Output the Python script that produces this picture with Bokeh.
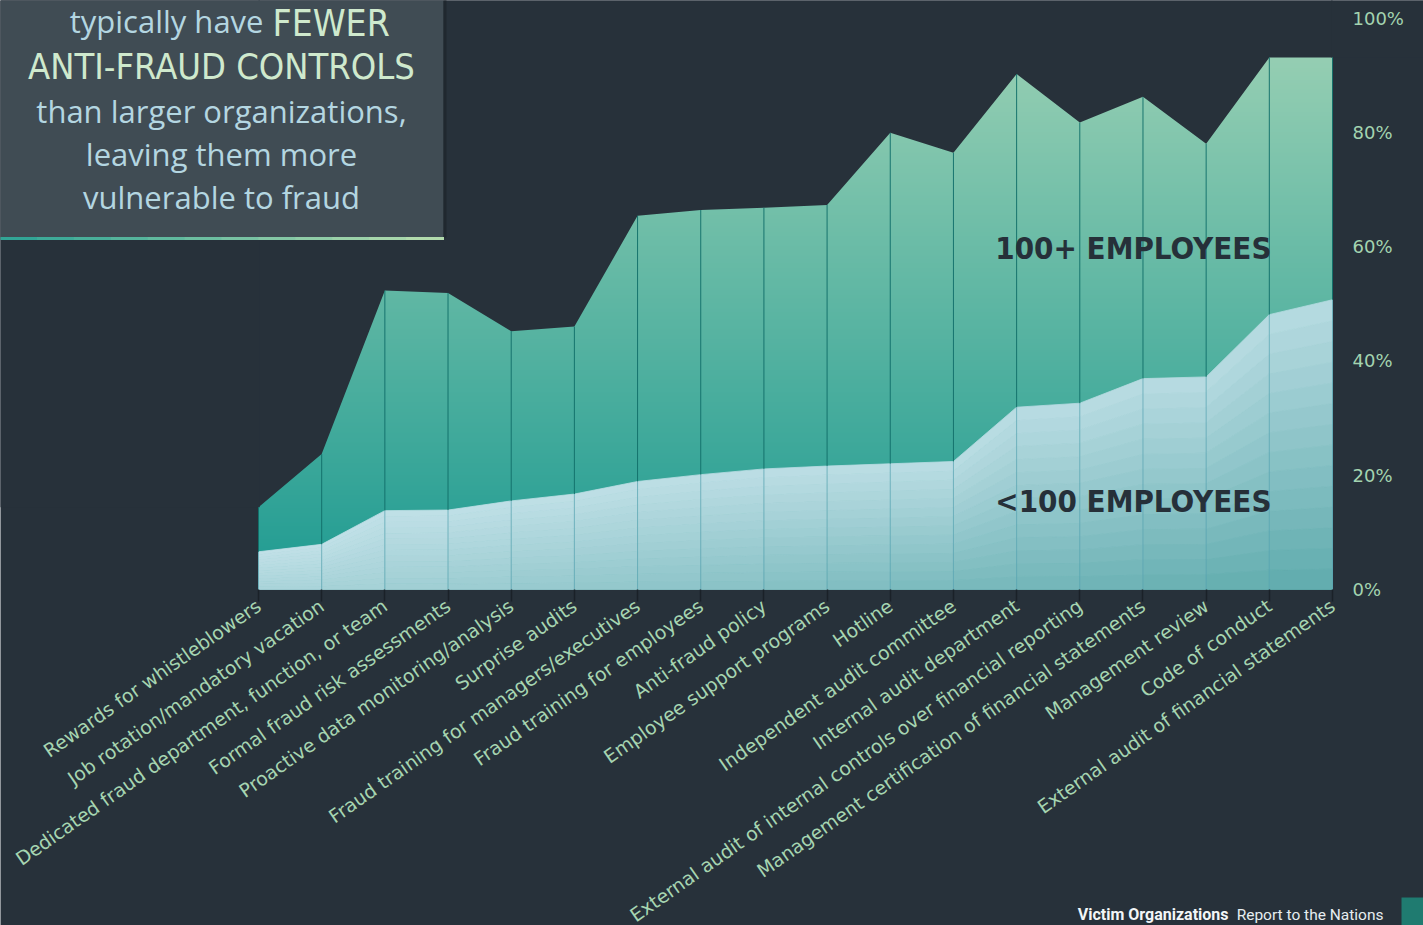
import numpy as np
from bokeh.plotting import figure
from bokeh.models import Range1d, FixedTicker, Label, BoxAnnotation
from bokeh.embed import file_html
from bokeh.resources import INLINE

# ---------------- data ----------------
categories = [
    "Rewards for whistleblowers",
    "Job rotation/mandatory vacation",
    "Dedicated fraud department, function, or team",
    "Formal fraud risk assessments",
    "Proactive data monitoring/analysis",
    "Surprise audits",
    "Fraud training for managers/executives",
    "Fraud training for employees",
    "Anti-fraud policy",
    "Employee support programs",
    "Hotline",
    "Independent audit committee",
    "Internal audit department",
    "External audit of internal controls over financial reporting",
    "Management certification of financial statements",
    "Management review",
    "Code of conduct",
    "External audit of financial statements",
]
over_100 = [14.4, 23.7, 52.3, 51.9, 45.2, 46.0, 65.4, 66.4, 66.8, 67.3,
            79.9, 76.4, 90.2, 81.7, 86.2, 78.0, 93.1, 93.1]
under_100 = [6.6, 7.9, 13.8, 13.9, 15.5, 16.7, 18.9, 20.1, 21.1, 21.6,
             22.0, 22.4, 31.9, 32.6, 36.9, 37.2, 48.1, 50.7]
y_ticks = [0, 20, 40, 60, 80, 100]
y_tick_labels = ["0%", "20%", "40%", "60%", "80%", "100%"]

# ---------------- style / layout ----------------
BG = "#27313a"
W, H = 1423, 925
n = len(categories)
X0_PX, XN_PX = 258, 1332          # pixel position of first / last category
Y0_PX, PX_PER_PCT = 589, 5.715    # pixel position of 0 %, pixels per percent
step = (XN_PX - X0_PX) / (n - 1)
x_start = -X0_PX / step
x_end = (W - X0_PX) / step
y_top = Y0_PX / PX_PER_PCT
y_bottom = -(H - Y0_PX) / PX_PER_PCT

p = figure(width=W, height=H, output_backend="svg", toolbar_location=None,
           x_range=Range1d(x_start, x_end), y_range=Range1d(y_bottom, y_top),
           x_axis_location="below", y_axis_location="right",
           min_border_left=0, min_border_top=0,
           min_border_right=0, min_border_bottom=0,
           background_fill_color=BG, border_fill_color=BG,
           outline_line_color=None)
p.xgrid.visible = False
p.ygrid.visible = False

xs = list(range(n))


def hexcol(c):
    c = np.clip(np.round(c), 0, 255).astype(int)
    return "#%02x%02x%02x" % tuple(c)


# green (100+) vertical gradient, masked above the series line
ny = 400
t = np.linspace(0, 1, ny)
g0 = np.array([0x1e, 0x9b, 0x92], float)
g1 = np.array([0x9e, 0xd2, 0xb5], float)
rgb = g0[None, :] * (1 - t[:, None]) + g1[None, :] * t[:, None]
img = np.empty((ny, 2), dtype=np.uint32)
view = img.view(dtype=np.uint8).reshape((ny, 2, 4))
view[:, :, 0:3] = rgb[:, None, :].astype(np.uint8)
view[:, :, 3] = 255
p.image_rgba(image=[img], x=0, y=0, dw=n - 1, dh=100)
p.varea(x=xs, y1=over_100, y2=[y_top + 1] * n, fill_color=BG, fill_alpha=1)
p.varea(x=[x_start - 1, 0.02], y1=[over_100[0]] * 2, y2=[y_top + 1] * 2,
        fill_color=BG, fill_alpha=1)
p.varea(x=[n - 1 - 0.02, x_end + 1], y1=[over_100[-1]] * 2, y2=[y_top + 1] * 2,
        fill_color=BG, fill_alpha=1)

# light (<100) area with soft diagonal shading
L = 14
light = np.array([0xc2, 0xe1, 0xe8], float)
dark = np.array([0x68, 0xb0, 0xb2], float)
pxs, pys, pcols = [], [], []
for i in range(n - 1):
    xf = (i + 0.5) / (n - 1)
    for k in range(L):
        t0, t1 = k / L, (k + 1) / L
        tc = 0.5 * (t0 + t1)
        w = (1 - tc) * (0.25 + 0.75 * xf) + 0.12 * xf
        pcols.append(hexcol(light * (1 - w) + dark * w))
        pxs.append([i, i + 1, i + 1, i])
        pys.append([under_100[i] * t0, under_100[i + 1] * t0,
                    under_100[i + 1] * t1, under_100[i] * t1])
p.patches(xs=pxs, ys=pys, fill_color=pcols, line_color=pcols, line_width=0.8)

# vertical category lines
p.segment(x0=xs, y0=[0] * n, x1=xs, y1=under_100,
          line_color="#5ba6b3", line_alpha=0.75, line_width=1)
p.segment(x0=xs, y0=under_100, x1=xs, y1=over_100,
          line_color="#12706a", line_alpha=0.95, line_width=1)

# ---------------- axes ----------------
xa = p.xaxis[0]
xa.fixed_location = 0
xa.ticker = FixedTicker(ticks=xs)
xa.major_label_overrides = {i: c for i, c in enumerate(categories)}
xa.major_label_orientation = np.radians(35)
xa.major_label_text_font = "DejaVu Sans"
xa.major_label_text_font_size = "19px"
xa.major_label_text_color = "#a6d5b1"
xa.major_tick_out = 12
xa.major_tick_in = 0
xa.major_tick_line_color = "#1a2128"
xa.major_tick_line_width = 1.5
xa.minor_tick_line_color = None
xa.axis_line_color = None
xa.major_label_standoff = 2

ya = p.yaxis[0]
ya.fixed_location = n - 1
ya.ticker = FixedTicker(ticks=y_ticks)
ya.major_label_overrides = dict(zip(y_ticks, y_tick_labels))
ya.major_tick_line_color = None
ya.major_tick_out = 0
ya.major_tick_in = 0
ya.minor_tick_line_color = None
ya.axis_line_color = None
ya.major_label_standoff = 20
ya.major_label_text_font = "DejaVu Sans"
ya.major_label_text_font_size = "18px"
ya.major_label_text_color = "#a3d4b0"


# ---------------- annotations (page px -> frame screen units) ----------------
def sx(px):
    return px


def sy(py):
    return H - py


def box(l, r, t_, b, color):
    p.add_layout(BoxAnnotation(left=sx(l), right=sx(r), top=sy(t_), bottom=sy(b),
                               left_units="screen", right_units="screen",
                               top_units="screen", bottom_units="screen",
                               fill_color=color, fill_alpha=1, line_color=None))


def txt(text, px, base_py, size, font, color, align="left", style="normal"):
    # base_py: wanted baseline in page pixels (corrected for label text layout)
    p.add_layout(Label(x=sx(px), y=sy(base_py - 0.44 * size), x_units="screen", y_units="screen",
                       text=text, text_font=font, text_font_size=f"{size}px",
                       text_color=color, text_align=align, text_baseline="alphabetic",
                       text_font_style=style))


# title panel
box(-2, 443, -5, 237, "#404c54")
box(443, 446, -5, 237, "#20282f")
seg_n = 12
c_a = np.array([0x2c, 0xa3, 0x95], float)
c_b = np.array([0xb8, 0xdd, 0xae], float)
for k in range(seg_n):
    f = (k + 0.5) / seg_n
    box(443 * k / seg_n - 0.5, 443 * (k + 1) / seg_n + 0.5, 236.5, 239.5,
        hexcol(c_a * (1 - f) + c_b * f))

SUB = "#b4d6e1"
HEAD = "#cfe9cd"
COND = "DejaVu Sans Condensed"
txt("typically have", 263, 34, 31, "Open Sans", SUB, align="right")
txt("FEWER", 272, 39, 37, COND, HEAD)
txt("ANTI-FRAUD CONTROLS", 221, 82, 36, COND, HEAD, align="center")
txt("than larger organizations,", 221, 124, 31, "Open Sans", SUB, align="center")
txt("leaving them more", 221, 167, 31, "Open Sans", SUB, align="center")
txt("vulnerable to fraud", 221, 210, 31, "Open Sans", SUB, align="center")

# series labels
txt("100+ EMPLOYEES", 1271, 261, 31, COND, "#263039", align="right", style="bold")
txt("<100 EMPLOYEES", 1271, 514, 31, COND, "#263039", align="right", style="bold")

# footer
txt("Report to the Nations", 1383, 921, 15.5, "Roboto", "#e6edf0", align="right")
txt("Victim Organizations", 1228, 921, 16, "Roboto", "#f2f6f7", align="right", style="bold")
box(1401, 1424, 897, 926, "#1f7b70")

open("out.html", "w").write(file_html(p, INLINE))
